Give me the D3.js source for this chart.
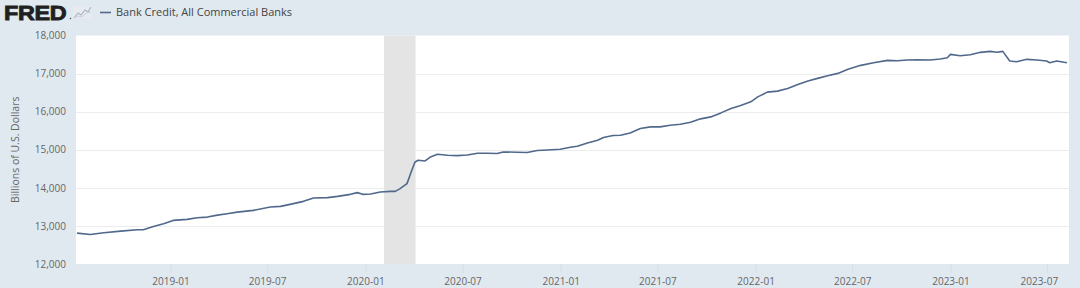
<!DOCTYPE html>
<html>
<head>
<meta charset="utf-8">
<script src="https://cdn.jsdelivr.net/npm/d3@7"></script>
<style>
  html, body { margin: 0; padding: 0; background: #e1e9f0; }
  #chart { width: 1080px; height: 288px; }
  text { font-family: "Open Sans", "Noto Sans", sans-serif; }
</style>
</head>
<body>
<div id="chart"></div>
<script>
// weekly readings, Bank Credit, All Commercial Banks (billions of USD)
const dates = [
  "2018-07-10","2018-08-04","2018-08-29","2018-09-30","2018-10-31","2018-11-11","2018-11-30","2018-12-19",
  "2019-01-06","2019-02-01","2019-02-20","2019-03-11","2019-03-30","2019-04-17","2019-05-06","2019-06-05",
  "2019-07-07","2019-07-26","2019-08-13","2019-09-07","2019-09-26","2019-10-22","2019-11-10","2019-12-04",
  "2019-12-17","2019-12-27","2020-01-11","2020-01-29","2020-02-17","2020-02-26","2020-03-06","2020-03-19",
  "2020-03-28","2020-04-03","2020-04-09","2020-04-22","2020-05-02","2020-05-15","2020-06-03","2020-06-21",
  "2020-07-10","2020-07-29","2020-08-16","2020-09-04","2020-09-15","2020-10-11","2020-10-30","2020-11-18",
  "2020-12-07","2020-12-31","2021-01-19","2021-02-01","2021-02-20","2021-03-11","2021-03-22","2021-04-09",
  "2021-04-23","2021-05-11","2021-05-30","2021-06-18","2021-07-06","2021-07-25","2021-08-13","2021-09-01",
  "2021-09-20","2021-10-09","2021-10-28","2021-11-16","2021-12-04","2021-12-23","2022-01-05","2022-01-23",
  "2022-02-11","2022-03-02","2022-03-21","2022-04-09","2022-04-27","2022-05-16","2022-06-04","2022-06-23",
  "2022-07-17","2022-08-10","2022-09-05","2022-09-24","2022-10-12","2022-10-31","2022-11-24","2022-12-13",
  "2022-12-26","2023-01-01","2023-01-19","2023-02-07","2023-02-26","2023-03-16","2023-03-29","2023-04-09",
  "2023-04-22","2023-05-05","2023-05-24","2023-06-12","2023-06-30","2023-07-06","2023-07-19","2023-08-07"
];
const values = [
  12811,12776,12821,12863,12900,12900,12987,13058,
  13145,13171,13216,13232,13284,13321,13363,13408,
  13495,13513,13566,13645,13732,13742,13776,13829,
  13874,13829,13840,13889,13908,13908,13979,14111,
  14461,14679,14724,14705,14811,14882,14855,14847,
  14863,14908,14908,14900,14942,14934,14926,14979,
  14995,15013,15066,15092,15179,15250,15321,15374,
  15382,15442,15558,15600,15600,15645,15671,15724,
  15811,15863,15968,16084,16163,16258,16389,16513,
  16539,16611,16716,16803,16874,16942,17005,17111,
  17216,17284,17347,17337,17355,17363,17355,17382,
  17416,17505,17468,17495,17558,17584,17558,17584,
  17329,17311,17374,17355,17329,17284,17329,17284
];
const recession = ["2020-02-05", "2020-04-04"];
const yTicks = [12000, 13000, 14000, 15000, 16000, 17000, 18000];
const xTickLabels = ["2019-01","2019-07","2020-01","2020-07","2021-01","2021-07","2022-01","2022-07","2023-01","2023-07"];
const seriesName = "Bank Credit, All Commercial Banks";
const yTitle = "Billions of U.S. Dollars";

const parse = d3.timeParse("%Y-%m-%d");
const parseMonth = d3.timeParse("%Y-%m");
const data = dates.map((d, i) => ({ date: parse(d), value: values[i] }));

const width = 1080, height = 288;
const margin = { top: 36, right: 11, bottom: 24, left: 76 };

const svg = d3.select("#chart").append("svg")
  .attr("width", width)
  .attr("height", height);

svg.append("rect").attr("width", width).attr("height", height).attr("fill", "#e1e9f0");

const x = d3.scaleTime()
  .domain([parse("2018-07-08"), parse("2023-08-11")])
  .range([margin.left, width - margin.right]);

const y = d3.scaleLinear()
  .domain([12000, 18000])
  .range([height - margin.bottom, margin.top - 0.5]);

// plot area
svg.append("rect")
  .attr("x", margin.left)
  .attr("y", y(18000))
  .attr("width", width - margin.right - margin.left)
  .attr("height", y(12000) - y(18000))
  .attr("fill", "#ffffff");

// gridlines
svg.append("g")
  .selectAll("line")
  .data(yTicks.slice(1, -1))
  .join("line")
  .attr("x1", margin.left)
  .attr("x2", width - margin.right)
  .attr("y1", d => Math.round(y(d)) + 0.5)
  .attr("y2", d => Math.round(y(d)) + 0.5)
  .attr("stroke", "#ececec")
  .attr("stroke-width", 1);

// recession shading
svg.append("rect")
  .attr("x", x(parse(recession[0])))
  .attr("y", y(18000))
  .attr("width", x(parse(recession[1])) - x(parse(recession[0])))
  .attr("height", y(12000) - y(18000))
  .attr("fill", "#e4e4e4");

// y axis labels
const yAxis = d3.axisLeft(y)
  .tickValues(yTicks)
  .tickSize(0)
  .tickPadding(10)
  .tickFormat(d3.format(",")) ;

svg.append("g")
  .attr("transform", "translate(" + margin.left + ",0)")
  .call(yAxis)
  .call(g => g.select(".domain").remove())
  .selectAll("text")
  .attr("fill", "#666")
  .style("font-size", "10px");

svg.append("text")
  .attr("transform", "translate(19," + ((y(12000) + y(18000)) / 2) + ") rotate(-90)")
  .attr("text-anchor", "middle")
  .attr("fill", "#666")
  .style("font-size", "10.5px")
  .text(yTitle);

// x axis
const xAxis = d3.axisBottom(x)
  .tickValues(xTickLabels.map(parseMonth))
  .tickSize(9)
  .tickPadding(3)
  .tickFormat(d3.timeFormat("%Y-%m"));

const xg = svg.append("g")
  .attr("transform", "translate(0," + y(12000) + ")")
  .call(xAxis);
xg.select(".domain").remove();
xg.selectAll("line").attr("stroke", "#d6dee7");
xg.selectAll("text")
  .attr("fill", "#666")
  .style("font-size", "10px")
  .attr("dy", "0.9em");
xg.selectAll(".tick").filter((d, i, n) => i === n.length - 1)
  .select("text")
  .attr("text-anchor", "end")
  .attr("dx", "1.05em");

// series line
const line = d3.line()
  .x(d => x(d.date))
  .y(d => y(d.value));

svg.append("path")
  .datum(data)
  .attr("fill", "none")
  .attr("stroke", "#50698b")
  .attr("stroke-width", 1.6)
  .attr("stroke-linejoin", "round")
  .attr("d", line);

// header: FRED logo + legend
svg.append("text")
  .attr("transform", "translate(4,19.5) scale(1.2,1)")
  .attr("fill", "#1f1f1f")
  .attr("stroke", "#1f1f1f")
  .attr("stroke-width", 0.8)
  .style("font-family", "'Liberation Sans', Arial, sans-serif")
  .style("font-weight", "bold")
  .style("font-size", "19.5px")
  .style("letter-spacing", "-0.3px")
  .text("FRED");

svg.append("circle").attr("cx", 70.5).attr("cy", 18.5).attr("r", 0.8).attr("fill", "#555");

const icon = svg.append("g").attr("transform", "translate(73,6)");
icon.append("rect").attr("width", 19).attr("height", 13).attr("fill", "#e7ebf0").attr("rx", 1);
icon.append("path")
  .attr("d", "M1,12 L5,7 L8,9 L12,4 L15,6 L18,1")
  .attr("fill", "none").attr("stroke", "#a9b6c6").attr("stroke-width", 1.2);
icon.append("path")
  .attr("d", "M1,12 L5,10 L9,11 L13,7 L18,6")
  .attr("fill", "none").attr("stroke", "#c5cfdb").attr("stroke-width", 1);

svg.append("line")
  .attr("x1", 100).attr("x2", 111)
  .attr("y1", 12.5).attr("y2", 12.5)
  .attr("stroke", "#50698b").attr("stroke-width", 1.6);

svg.append("text")
  .attr("x", 116)
  .attr("y", 16)
  .attr("fill", "#444")
  .style("font-size", "11px")
  .text(seriesName);
</script>
</body>
</html>
